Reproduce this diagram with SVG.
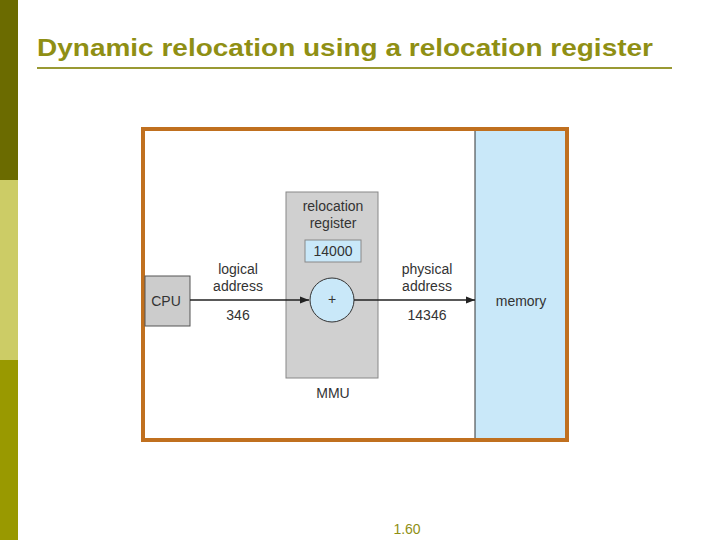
<svg xmlns="http://www.w3.org/2000/svg" width="720" height="540" viewBox="0 0 720 540">
<defs>
<style>
text{font-family:"Liberation Sans",Arial,sans-serif;fill:#333;font-size:14px;text-anchor:middle}
.t{font-size:24px;font-weight:bold;fill:#8f8f14;text-anchor:start}
</style>
<marker id="ah" viewBox="0 0 10 10" refX="10" refY="5" markerWidth="6" markerHeight="6" orient="auto"><path d="M0,1L10,5L0,9z" fill="#222"/></marker>
</defs>
<rect width="720" height="540" fill="#fff"/>
<rect x="0" y="0" width="18" height="180" fill="#6b6b00"/>
<rect x="0" y="180" width="18" height="180" fill="#cccc66"/>
<rect x="0" y="360" width="18" height="180" fill="#999900"/>
<text class="t" x="37" y="56" textLength="616" lengthAdjust="spacingAndGlyphs">Dynamic relocation using a relocation register</text>
<line x1="37" y1="68" x2="672" y2="68" stroke="#999933" stroke-width="2"/>
<rect x="143" y="129" width="424" height="311" fill="#fff" stroke="#c0701f" stroke-width="4"/>
<g id="memory"><rect x="475" y="131" width="90" height="307" fill="#c9e8f9"/><line x1="475" y1="131" x2="475" y2="438" stroke="#333" stroke-width="1"/><text x="521" y="306">memory</text></g>
<g id="cpu"><rect x="145" y="276" width="45" height="50" fill="#ccc" stroke="#555"/><text x="166" y="306">CPU</text></g>
<g id="mmu"><rect x="286" y="192" width="92" height="186" fill="#d0d0d0" stroke="#888"/>
<text x="333" y="211">relocation</text><text x="333" y="228">register</text><text x="333" y="398">MMU</text></g>
<g id="reg"><rect x="305" y="240" width="56" height="22" fill="#c9e8f9" stroke="#888"/><text x="333" y="256">14000</text></g>
<g id="adder"><circle cx="332" cy="300" r="22" fill="#c9e8f9" stroke="#333"/><text x="332" y="304" font-size="13">+</text></g>
<g id="connectors" stroke="#222" stroke-width="1.5">
<line x1="190" y1="300" x2="309" y2="300" marker-end="url(#ah)"/>
<line x1="354" y1="300" x2="475" y2="300" marker-end="url(#ah)"/>
</g>
<text x="238" y="274">logical</text><text x="238" y="291">address</text><text x="238" y="320">346</text>
<text x="427" y="274">physical</text><text x="427" y="291">address</text><text x="427" y="320">14346</text>
<text x="407" y="534" font-size="9" fill="#8f8f14" style="fill:#8f8f14">1.60</text>
</svg>
